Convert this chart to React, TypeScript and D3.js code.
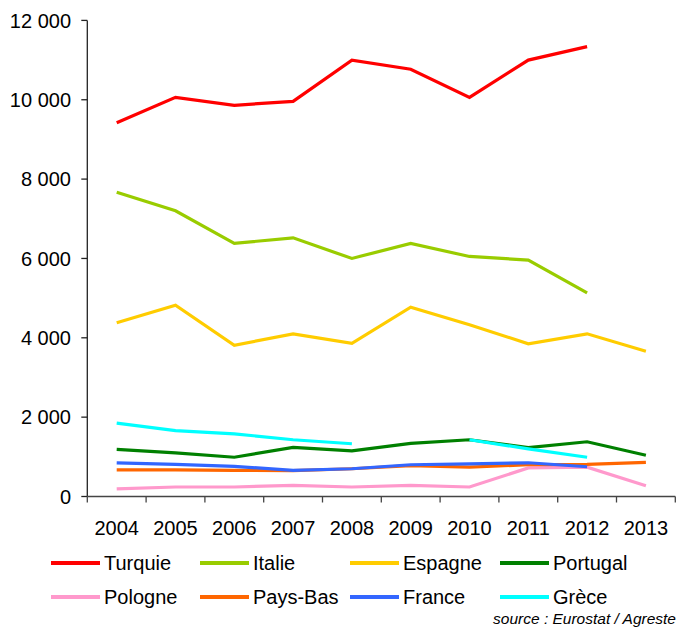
import React from "react";
import * as d3 from "d3";

const years = ["2004", "2005", "2006", "2007", "2008", "2009", "2010", "2011", "2012", "2013"];
const yTicks = [0, 2000, 4000, 6000, 8000, 10000, 12000];

const turquie = [9420, 10060, 9860, 9960, 11000, 10770, 10060, 11000, 11340, null];
const italie = [7670, 7200, 6380, 6520, 6000, 6380, 6050, 5960, 5130, null];
const espagne = [4380, 4820, 3810, 4100, 3860, 4770, 4330, 3850, 4100, 3660];
const portugal = [1190, 1100, 990, 1240, 1150, 1340, 1430, 1230, 1380, 1040];
const pologne = [190, 240, 240, 280, 240, 280, 240, 720, 740, 270];
const paysBas = [670, 670, 660, 650, 700, 780, 740, 800, 810, 860];
const france = [850, 810, 760, 660, 700, 800, 820, 850, 750, null];
const grece = [1850, 1660, 1580, 1430, 1330, null, 1430, 1200, 990, null];

const seriesNames = ["Turquie", "Italie", "Espagne", "Portugal", "Pologne", "Pays-Bas", "France", "Grèce"];
const seriesValues = [turquie, italie, espagne, portugal, pologne, paysBas, france, grece];
const seriesColors = ["#FF0000", "#99CC00", "#FFCC00", "#008000", "#FF99CC", "#FF6600", "#3366FF", "#00FFFF"];

const W = 678;
const H = 628;
const left = 87.3;
const right = 675.3;
const top = 20.4;
const bottom = 496.5;

const fmt = (v: number) => d3.format(",")(v).replace(/,/g, " ");

export default function App() {
  const x = d3.scaleBand<string>().domain(years).range([left, right]);
  const y = d3.scaleLinear().domain([0, 12000]).range([bottom, top]);
  const line = d3
    .line<number | null>()
    .defined((d) => d !== null)
    .x((_, i) => (x(years[i]) as number) + x.bandwidth() / 2)
    .y((d) => y(d as number));

  const font = "'Liberation Sans', Arial, sans-serif";
  const legendX = [51, 200, 350, 500];
  const legendY = [563, 597];

  return (
    <svg
      width={W}
      height={H}
      style={{ position: "absolute", left: 0, top: 0, display: "block", background: "#fff" }}
      fontFamily={font}
    >
      {/* y axis */}
      <line x1={left} x2={left} y1={top} y2={bottom} stroke="#222" strokeWidth={1.3} />
      {yTicks.map((t) => (
        <g key={t}>
          <line x1={left - 6} x2={left} y1={y(t)} y2={y(t)} stroke="#222" strokeWidth={1.3} />
          <text x={71} y={y(t)} dy="0.36em" textAnchor="end" fontSize={20} fill="#000">
            {fmt(t)}
          </text>
        </g>
      ))}
      {/* x axis */}
      <line x1={left} x2={right} y1={bottom} y2={bottom} stroke="#444" strokeWidth={1.3} />
      {years.map((yr, i) => (
        <line
          key={"t" + yr}
          x1={left + i * x.step()}
          x2={left + i * x.step()}
          y1={bottom}
          y2={bottom + 6}
          stroke="#444"
          strokeWidth={1.3}
        />
      ))}
      <line x1={right} x2={right} y1={bottom} y2={bottom + 6} stroke="#444" strokeWidth={1.3} />
      {years.map((yr) => (
        <text
          key={yr}
          x={(x(yr) as number) + x.bandwidth() / 2}
          y={535}
          textAnchor="middle"
          fontSize={20}
          fill="#000"
        >
          {yr}
        </text>
      ))}
      {/* lines */}
      {seriesValues.map((vals, i) => (
        <path
          key={seriesNames[i]}
          d={line(vals) || ""}
          fill="none"
          stroke={seriesColors[i]}
          strokeWidth={3.2}
          strokeLinejoin="miter"
        />
      ))}
      {/* legend */}
      {seriesNames.map((name, i) => {
        const lx = legendX[i % 4];
        const ly = legendY[Math.floor(i / 4)];
        return (
          <g key={"l" + name}>
            <line x1={lx} x2={lx + 49} y1={ly} y2={ly} stroke={seriesColors[i]} strokeWidth={4} />
            <text x={lx + 53} y={ly} dy="0.36em" fontSize={20} fill="#000">
              {name}
            </text>
          </g>
        );
      })}
      <text x={676} y={623.5} textAnchor="end" fontSize={15.5} fontStyle="italic" fill="#000">
        source : Eurostat / Agreste
      </text>
    </svg>
  );
}
